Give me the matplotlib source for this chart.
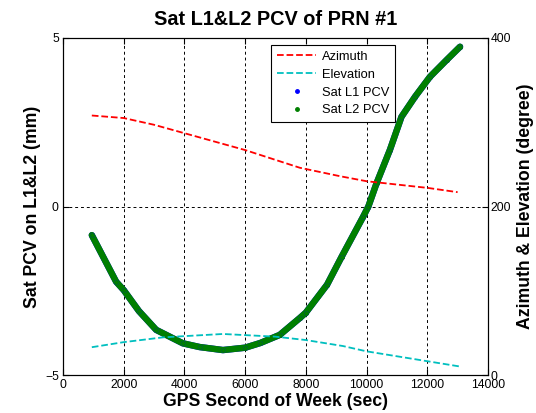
import numpy as np
import matplotlib
matplotlib.use('Agg')
import matplotlib.pyplot as plt

plt.rcParams['font.family'] = ['Liberation Sans', 'DejaVu Sans']

# PCV (mm)
t_pcv = [950, 1750, 2000, 2500, 3070, 3950, 4500, 5270, 6000, 6500, 7140, 7800,
         8000, 8700, 9180, 9890, 10060, 10330, 10770, 11150, 11600, 12090, 12640, 13080]
pcv = [-0.85, -2.23, -2.48, -3.1, -3.66, -4.06, -4.17, -4.26, -4.19, -4.05, -3.81, -3.31,
       -3.15, -2.32, -1.49, -0.30, 0.0, 0.69, 1.68, 2.66, 3.26, 3.85, 4.35, 4.74]

# azimuth / elevation (degree)
t_az = [950, 2000, 3000, 4000, 6000, 7800, 9120, 10000, 12030, 13000]
az = [308, 305, 297, 287, 267, 246, 236, 230, 222, 217]
t_el = [950, 2000, 3300, 5270, 7000, 8000, 9220, 10000, 12030, 13040]
el = [33, 39, 44.7, 48.7, 45.5, 41.5, 34.4, 28.1, 16.2, 10.3]

fig = plt.figure(figsize=(5.36, 4.13), dpi=100)
ax1 = fig.add_axes([0.1175, 0.092, 0.7929, 0.816])
ax2 = ax1.twinx()

# thick line behind the dots so the dense series looks continuous
ax1.plot(t_pcv, pcv, color='b', lw=4.6, solid_capstyle='round', label='_nolegend_')
ax1.plot(t_pcv, pcv, color='#007f00', lw=4.6, solid_capstyle='round',
         solid_joinstyle='round', label='_nolegend_')
h1, = ax1.plot(t_pcv, pcv, 'b.', ms=5, label='Sat L1 PCV')
h2, = ax1.plot(t_pcv, pcv, '.', color='#007f00', ms=5, label='Sat L2 PCV')

ha, = ax2.plot(t_az, az, 'r--', lw=1.3, label='Azimuth')
he, = ax2.plot(t_el, el, '--', color='#00bfbf', lw=1.3, label='Elevation')

ax1.set_xlim(0, 14000)
ax1.set_ylim(-5, 5)
ax2.set_ylim(0, 400)
ax1.set_xticks(np.arange(0, 14001, 2000))
ax1.set_yticks([-5, 0, 5])
ax2.set_yticks([0, 200, 400])
ax1.grid(True, color='k', ls=(0, (3, 3)), lw=0.7)
ax1.tick_params(direction='in', top=True, labelsize=8.7, length=4, pad=3)
ax2.tick_params(direction='in', labelsize=8.7, length=4, pad=2)

ax1.set_title('Sat L1&L2 PCV of PRN #1', fontsize=14.3, fontweight='bold', pad=9)
ax1.set_xlabel('GPS Second of Week (sec)', fontsize=12.7, fontweight='bold', labelpad=1)
ax1.set_ylabel('Sat PCV on L1&L2 (mm)', fontsize=12.7, fontweight='bold', labelpad=3)
ax2.set_ylabel('Azimuth & Elevation (degree)', fontsize=12.7, fontweight='bold', labelpad=4)

leg = ax2.legend([ha, he, h1, h2], ['Azimuth', 'Elevation', 'Sat L1 PCV', 'Sat L2 PCV'],
                 loc='upper right', bbox_to_anchor=(0.781, 0.979), fontsize=9.3,
                 fancybox=False, edgecolor='k', framealpha=1, handlelength=3,
                 handletextpad=0.45, borderpad=0.45, labelspacing=0.45,
                 borderaxespad=0)
leg.get_frame().set_linewidth(0.8)

plt.savefig('out.png', dpi=100)
